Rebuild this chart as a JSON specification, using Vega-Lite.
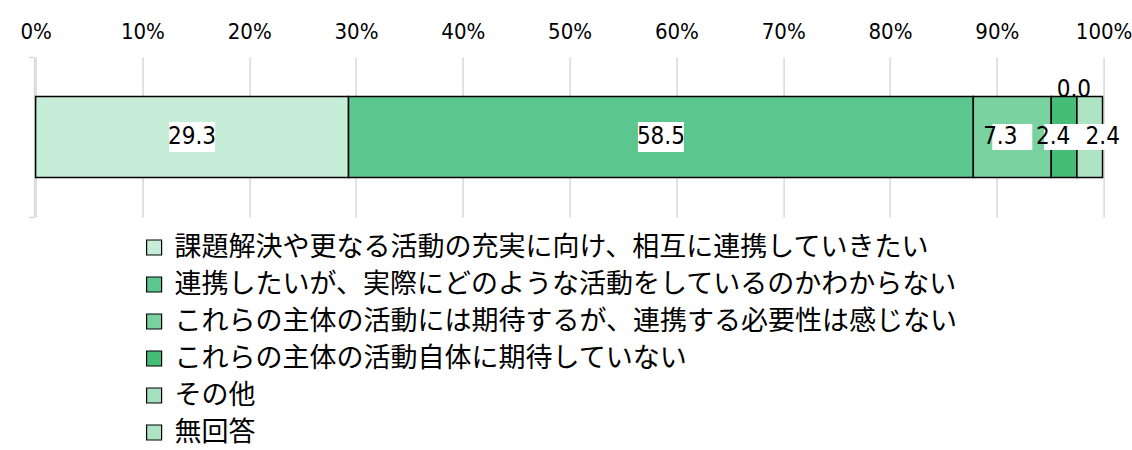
{
  "$schema": "https://vega.github.io/schema/vega-lite/v6.json",
  "width": 1068,
  "height": 160,
  "autosize": {"type": "none"},
  "padding": {"left": 35.6, "top": 57, "right": 28.4, "bottom": 233},
  "background": "white",
  "config": {"view": {"stroke": null}, "font": "Noto Sans CJK JP"},
  "data": {"values": [
    {"q": "Q", "cat": "課題解決や更なる活動の充実に向け、相互に連携していきたい", "value": 29.3, "order": 1},
    {"q": "Q", "cat": "連携したいが、実際にどのような活動をしているのかわからない", "value": 58.5, "order": 2},
    {"q": "Q", "cat": "これらの主体の活動には期待するが、連携する必要性は感じない", "value": 7.3, "order": 3},
    {"q": "Q", "cat": "これらの主体の活動自体に期待していない", "value": 2.4, "order": 4},
    {"q": "Q", "cat": "その他", "value": 0.0, "order": 5},
    {"q": "Q", "cat": "無回答", "value": 2.4, "order": 6}
  ]},
  "encoding": {
    "y": {"field": "q", "type": "nominal", "title": null,
      "scale": {"paddingInner": 0, "paddingOuter": 0},
      "axis": {"labels": false, "title": null, "tickBand": "extent", "domainColor": "#d9d9d9", "domainWidth": 1.5, "tickColor": "#d9d9d9", "tickWidth": 1.5, "tickSize": 6, "offset": 1.5, "grid": false}},
    "order": {"field": "order", "type": "quantitative"}
  },
  "layer": [
    {
      "mark": {"type": "bar", "stroke": "black", "strokeWidth": 1.5, "height": {"band": 0.506}},
      "encoding": {
        "x": {"field": "value", "type": "quantitative", "stack": "zero", "title": null,
          "scale": {"domain": [0, 100], "nice": false},
          "axis": {"orient": "top", "values": [0, 10, 20, 30, 40, 50, 60, 70, 80, 90, 100], "labelExpr": "datum.value + '%'", "domain": false, "ticks": false, "labelPadding": 14, "labelDx": -5, "labelFont": "DejaVu Sans Condensed, sans-serif", "labelFontSize": 22, "labelColor": "black", "labelFlush": false, "labelBound": false, "grid": true, "gridColor": "#d9d9d9", "gridWidth": 1.5, "title": null}},
        "color": {"field": "cat", "type": "nominal",
          "scale": {
            "domain": ["課題解決や更なる活動の充実に向け、相互に連携していきたい", "連携したいが、実際にどのような活動をしているのかわからない", "これらの主体の活動には期待するが、連携する必要性は感じない", "これらの主体の活動自体に期待していない", "その他", "無回答"],
            "range": ["#c6edd7", "#5cc68f", "#79d29f", "#45bd77", "#a4e0bd", "#aee4c4"]},
          "legend": {"title": null, "orient": "none", "legendX": 105, "legendY": 177, "symbolType": "square", "symbolSize": 225, "symbolStrokeColor": "black", "symbolStrokeWidth": 1.2, "symbolOpacity": 1, "labelFont": "Noto Sans CJK JP", "labelFontSize": 27, "labelColor": "black", "labelOffset": 7, "rowPadding": 9, "labelLimit": 1200, "padding": 0}}
      }
    },
    {
      "mark": {"type": "point", "shape": "M-1,-0.65L1,-0.65L1,0.65L-1,0.65Z", "filled": true, "fill": "white", "strokeWidth": 0, "size": 2116},
      "encoding": {
        "x": {"field": "value", "type": "quantitative", "stack": "zero", "bandPosition": 0.5, "title": null},
        "opacity": {"condition": {"test": "datum.order <= 2", "value": 1}, "value": 0}
      }
    },
    {
      "mark": {"type": "point", "shape": "M-1,-0.65L1,-0.65L1,0.65L-1,0.65Z", "filled": true, "fill": "white", "strokeWidth": 0, "size": 1600, "dx": -12},
      "encoding": {
        "x": {"field": "value", "type": "quantitative", "stack": "zero", "bandPosition": 0.5, "title": null},
        "opacity": {"condition": {"test": "datum.order == 3", "value": 1}, "value": 0}
      }
    },
    {
      "mark": {"type": "point", "shape": "M-1,-0.65L1,-0.65L1,0.65L-1,0.65Z", "filled": true, "fill": "white", "strokeWidth": 0, "size": 1600, "dx": -11},
      "encoding": {
        "x": {"field": "value", "type": "quantitative", "stack": "zero", "bandPosition": 0.5, "title": null},
        "opacity": {"condition": {"test": "datum.order == 4", "value": 1}, "value": 0}
      }
    },
    {
      "mark": {"type": "point", "shape": "M-1,-0.65L1,-0.65L1,0.65L-1,0.65Z", "filled": true, "fill": "white", "strokeWidth": 0, "size": 1600, "dx": -3, "dy": -47},
      "encoding": {
        "x": {"field": "value", "type": "quantitative", "stack": "zero", "bandPosition": 0.5, "title": null},
        "opacity": {"condition": {"test": "datum.order == 5", "value": 1}, "value": 0}
      }
    },
    {
      "mark": {"type": "point", "shape": "M-1,-0.65L1,-0.65L1,0.65L-1,0.65Z", "filled": true, "fill": "white", "strokeWidth": 0, "size": 1600, "dx": 13},
      "encoding": {
        "x": {"field": "value", "type": "quantitative", "stack": "zero", "bandPosition": 0.5, "title": null},
        "opacity": {"condition": {"test": "datum.order == 6", "value": 1}, "value": 0}
      }
    },
    {
      "mark": {"type": "text", "font": "DejaVu Sans Condensed, sans-serif", "fontSize": 24, "color": "black", "align": "center", "baseline": "middle"},
      "encoding": {
        "x": {"field": "value", "type": "quantitative", "stack": "zero", "bandPosition": 0.5, "title": null},
        "text": {"condition": {"test": "datum.order <= 2", "field": "value", "type": "quantitative", "format": ".1f"}, "value": ""}
      }
    },
    {
      "mark": {"type": "text", "font": "DejaVu Sans Condensed, sans-serif", "fontSize": 24, "color": "black", "align": "center", "baseline": "middle", "dx": -12},
      "encoding": {
        "x": {"field": "value", "type": "quantitative", "stack": "zero", "bandPosition": 0.5, "title": null},
        "text": {"condition": {"test": "datum.order == 3", "field": "value", "type": "quantitative", "format": ".1f"}, "value": ""}
      }
    },
    {
      "mark": {"type": "text", "font": "DejaVu Sans Condensed, sans-serif", "fontSize": 24, "color": "black", "align": "center", "baseline": "middle", "dx": -11},
      "encoding": {
        "x": {"field": "value", "type": "quantitative", "stack": "zero", "bandPosition": 0.5, "title": null},
        "text": {"condition": {"test": "datum.order == 4", "field": "value", "type": "quantitative", "format": ".1f"}, "value": ""}
      }
    },
    {
      "mark": {"type": "text", "font": "DejaVu Sans Condensed, sans-serif", "fontSize": 24, "color": "black", "align": "center", "baseline": "middle", "dx": -3, "dy": -47},
      "encoding": {
        "x": {"field": "value", "type": "quantitative", "stack": "zero", "bandPosition": 0.5, "title": null},
        "text": {"condition": {"test": "datum.order == 5", "field": "value", "type": "quantitative", "format": ".1f"}, "value": ""}
      }
    },
    {
      "mark": {"type": "text", "font": "DejaVu Sans Condensed, sans-serif", "fontSize": 24, "color": "black", "align": "center", "baseline": "middle", "dx": 13},
      "encoding": {
        "x": {"field": "value", "type": "quantitative", "stack": "zero", "bandPosition": 0.5, "title": null},
        "text": {"condition": {"test": "datum.order == 6", "field": "value", "type": "quantitative", "format": ".1f"}, "value": ""}
      }
    }
  ]
}
